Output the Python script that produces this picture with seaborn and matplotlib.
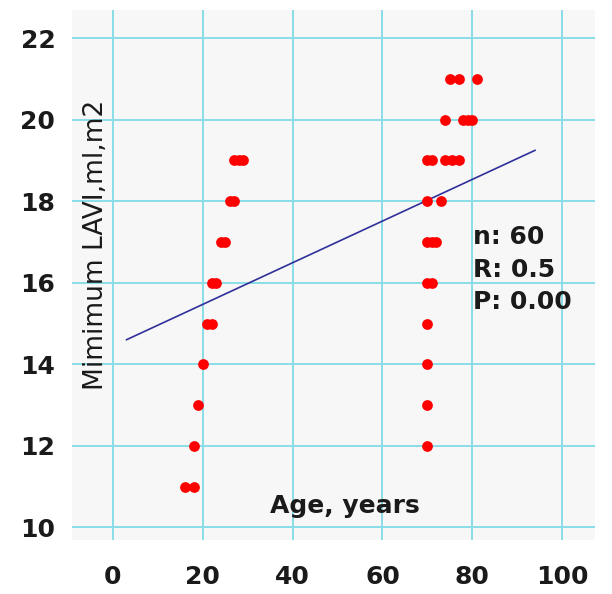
import matplotlib
matplotlib.use("Agg")
import matplotlib.pyplot as plt
import seaborn as sns
import pandas as pd

# young group (left cluster) and old group (right cluster)
young_age = [16, 18, 18, 19, 20, 21, 22, 22, 23, 24, 25, 26, 27, 27, 28, 29]
young_lavi = [11, 11, 12, 13, 14, 15, 15, 16, 16, 17, 17, 18, 18, 19, 19, 19]

old_age = [70, 70, 70, 70, 70, 71, 70, 71, 72, 70, 73,
           70, 71, 74, 75.5, 77, 74, 78, 79, 80, 75, 77, 81]
old_lavi = [12, 13, 14, 15, 16, 16, 17, 17, 17, 18, 18,
            19, 19, 19, 19, 19, 20, 20, 20, 20, 21, 21, 21]

# regression line end points
fit_age = [3, 94]
fit_lavi = [14.6, 19.25]

x_ticks = [0, 20, 40, 60, 80, 100]
y_ticks = [10, 12, 14, 16, 18, 20, 22]
stats_lines = ["n: 60", "R: 0.5", "P: 0.00"]

df = pd.DataFrame({
    "age": young_age + old_age,
    "lavi": young_lavi + old_lavi,
})
fit = pd.DataFrame({"age": fit_age, "lavi": fit_lavi})

sns.set_theme(style="white")
plt.rcParams["font.family"] = ["DejaVu Sans"]

fig = plt.figure(figsize=(6.12, 5.94), dpi=100)
ax = fig.add_axes([0.1176, 0.0909, 0.8546, 0.8923])
ax.set_facecolor("#f7f7f7")

sns.scatterplot(data=df, x="age", y="lavi", ax=ax, color="#ff0000",
                s=60, linewidth=0, zorder=3)
sns.lineplot(data=fit, x="age", y="lavi", ax=ax, color="#30309a",
             linewidth=1.2, zorder=2)

ax.set_xlim(-9.1, 107.3)
ax.set_ylim(9.69, 22.69)
ax.set_xticks(x_ticks)
ax.set_yticks(y_ticks)
ax.set_xticklabels([str(t) for t in x_ticks], fontsize=18, fontweight="bold", color="#1a1a1a")
ax.set_yticklabels([str(t) for t in y_ticks], fontsize=18, fontweight="bold", color="#1a1a1a")
ax.tick_params(axis="x", length=0, pad=18)
ax.tick_params(axis="y", length=0, pad=12)
ax.grid(True, color="#88dde6", linewidth=1.4)
ax.set_axisbelow(True)
for sp in ax.spines.values():
    sp.set_visible(False)

ax.set_ylabel("Mimimum LAVI,ml,m2", fontsize=19, color="#1a1a1a")
ax.yaxis.set_label_coords(0.07, 0.557)
ax.set_xlabel("Age, years", fontsize=18, fontweight="bold", color="#1a1a1a")
ax.xaxis.set_label_coords(0.522, 0.086)

for txt, yy in zip(stats_lines, [0.572, 0.509, 0.449]):
    ax.text(0.767, yy, txt, transform=ax.transAxes, fontsize=18,
            fontweight="bold", color="#1a1a1a", va="center", ha="left")

fig.savefig("out.png", dpi=100)
